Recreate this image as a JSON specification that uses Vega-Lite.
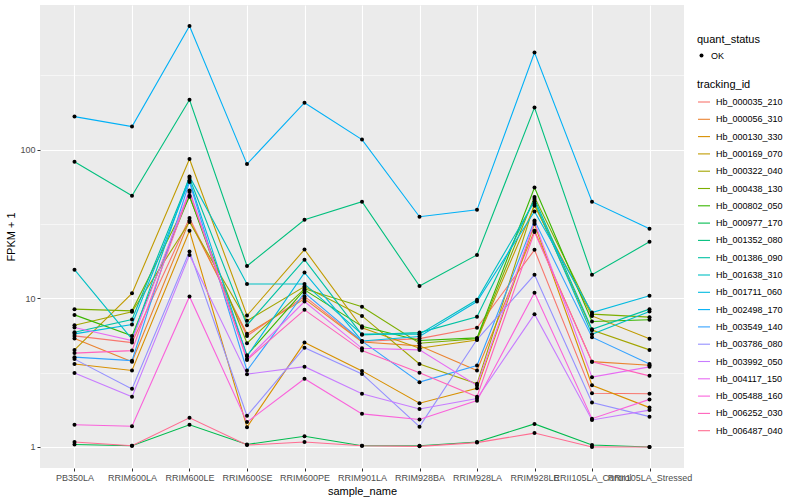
{
  "$schema": "https://vega.github.io/schema/vega-lite/v6.json",
  "autosize": {"type": "none"},
  "width": 644,
  "height": 463,
  "padding": {"left": 40, "top": 5, "right": 116, "bottom": 32},
  "background": "white",
  "data": {"values": [
    {"tracking_id":"Hb_000035_210","sample_name":"PB350LA","fpkm1":5.59,"quant_status":"OK"},
    {"tracking_id":"Hb_000035_210","sample_name":"RRIM600LA","fpkm1":5.04,"quant_status":"OK"},
    {"tracking_id":"Hb_000035_210","sample_name":"RRIM600LE","fpkm1":34.7,"quant_status":"OK"},
    {"tracking_id":"Hb_000035_210","sample_name":"RRIM600SE","fpkm1":5.59,"quant_status":"OK"},
    {"tracking_id":"Hb_000035_210","sample_name":"RRIM600PE","fpkm1":10.3,"quant_status":"OK"},
    {"tracking_id":"Hb_000035_210","sample_name":"RRIM901LA","fpkm1":5.12,"quant_status":"OK"},
    {"tracking_id":"Hb_000035_210","sample_name":"RRIM928BA","fpkm1":5.36,"quant_status":"OK"},
    {"tracking_id":"Hb_000035_210","sample_name":"RRIM928LA","fpkm1":6.33,"quant_status":"OK"},
    {"tracking_id":"Hb_000035_210","sample_name":"RRIM928LE","fpkm1":21.2,"quant_status":"OK"},
    {"tracking_id":"Hb_000035_210","sample_name":"RRII105LA_Control","fpkm1":2.30,"quant_status":"OK"},
    {"tracking_id":"Hb_000035_210","sample_name":"RRII105LA_Stressed","fpkm1":2.28,"quant_status":"OK"},
    {"tracking_id":"Hb_000056_310","sample_name":"PB350LA","fpkm1":5.36,"quant_status":"OK"},
    {"tracking_id":"Hb_000056_310","sample_name":"RRIM600LA","fpkm1":3.74,"quant_status":"OK"},
    {"tracking_id":"Hb_000056_310","sample_name":"RRIM600LE","fpkm1":33.4,"quant_status":"OK"},
    {"tracking_id":"Hb_000056_310","sample_name":"RRIM600SE","fpkm1":5.77,"quant_status":"OK"},
    {"tracking_id":"Hb_000056_310","sample_name":"RRIM600PE","fpkm1":9.92,"quant_status":"OK"},
    {"tracking_id":"Hb_000056_310","sample_name":"RRIM901LA","fpkm1":5.09,"quant_status":"OK"},
    {"tracking_id":"Hb_000056_310","sample_name":"RRIM928BA","fpkm1":4.79,"quant_status":"OK"},
    {"tracking_id":"Hb_000056_310","sample_name":"RRIM928LA","fpkm1":3.27,"quant_status":"OK"},
    {"tracking_id":"Hb_000056_310","sample_name":"RRIM928LE","fpkm1":28.5,"quant_status":"OK"},
    {"tracking_id":"Hb_000056_310","sample_name":"RRII105LA_Control","fpkm1":3.75,"quant_status":"OK"},
    {"tracking_id":"Hb_000056_310","sample_name":"RRII105LA_Stressed","fpkm1":3.55,"quant_status":"OK"},
    {"tracking_id":"Hb_000130_330","sample_name":"PB350LA","fpkm1":3.62,"quant_status":"OK"},
    {"tracking_id":"Hb_000130_330","sample_name":"RRIM600LA","fpkm1":3.27,"quant_status":"OK"},
    {"tracking_id":"Hb_000130_330","sample_name":"RRIM600LE","fpkm1":28.5,"quant_status":"OK"},
    {"tracking_id":"Hb_000130_330","sample_name":"RRIM600SE","fpkm1":1.36,"quant_status":"OK"},
    {"tracking_id":"Hb_000130_330","sample_name":"RRIM600PE","fpkm1":5.04,"quant_status":"OK"},
    {"tracking_id":"Hb_000130_330","sample_name":"RRIM901LA","fpkm1":3.25,"quant_status":"OK"},
    {"tracking_id":"Hb_000130_330","sample_name":"RRIM928BA","fpkm1":1.97,"quant_status":"OK"},
    {"tracking_id":"Hb_000130_330","sample_name":"RRIM928LA","fpkm1":2.48,"quant_status":"OK"},
    {"tracking_id":"Hb_000130_330","sample_name":"RRIM928LE","fpkm1":31.6,"quant_status":"OK"},
    {"tracking_id":"Hb_000130_330","sample_name":"RRII105LA_Control","fpkm1":2.60,"quant_status":"OK"},
    {"tracking_id":"Hb_000130_330","sample_name":"RRII105LA_Stressed","fpkm1":1.84,"quant_status":"OK"},
    {"tracking_id":"Hb_000169_070","sample_name":"PB350LA","fpkm1":4.50,"quant_status":"OK"},
    {"tracking_id":"Hb_000169_070","sample_name":"RRIM600LA","fpkm1":10.8,"quant_status":"OK"},
    {"tracking_id":"Hb_000169_070","sample_name":"RRIM600LE","fpkm1":86.6,"quant_status":"OK"},
    {"tracking_id":"Hb_000169_070","sample_name":"RRIM600SE","fpkm1":7.66,"quant_status":"OK"},
    {"tracking_id":"Hb_000169_070","sample_name":"RRIM600PE","fpkm1":21.3,"quant_status":"OK"},
    {"tracking_id":"Hb_000169_070","sample_name":"RRIM901LA","fpkm1":6.33,"quant_status":"OK"},
    {"tracking_id":"Hb_000169_070","sample_name":"RRIM928BA","fpkm1":4.62,"quant_status":"OK"},
    {"tracking_id":"Hb_000169_070","sample_name":"RRIM928LA","fpkm1":5.25,"quant_status":"OK"},
    {"tracking_id":"Hb_000169_070","sample_name":"RRIM928LE","fpkm1":42.0,"quant_status":"OK"},
    {"tracking_id":"Hb_000169_070","sample_name":"RRII105LA_Control","fpkm1":7.62,"quant_status":"OK"},
    {"tracking_id":"Hb_000169_070","sample_name":"RRII105LA_Stressed","fpkm1":5.34,"quant_status":"OK"},
    {"tracking_id":"Hb_000322_040","sample_name":"PB350LA","fpkm1":6.60,"quant_status":"OK"},
    {"tracking_id":"Hb_000322_040","sample_name":"RRIM600LA","fpkm1":8.11,"quant_status":"OK"},
    {"tracking_id":"Hb_000322_040","sample_name":"RRIM600LE","fpkm1":32.6,"quant_status":"OK"},
    {"tracking_id":"Hb_000322_040","sample_name":"RRIM600SE","fpkm1":7.06,"quant_status":"OK"},
    {"tracking_id":"Hb_000322_040","sample_name":"RRIM600PE","fpkm1":12.0,"quant_status":"OK"},
    {"tracking_id":"Hb_000322_040","sample_name":"RRIM901LA","fpkm1":7.62,"quant_status":"OK"},
    {"tracking_id":"Hb_000322_040","sample_name":"RRIM928BA","fpkm1":3.62,"quant_status":"OK"},
    {"tracking_id":"Hb_000322_040","sample_name":"RRIM928LA","fpkm1":2.66,"quant_status":"OK"},
    {"tracking_id":"Hb_000322_040","sample_name":"RRIM928LE","fpkm1":43.3,"quant_status":"OK"},
    {"tracking_id":"Hb_000322_040","sample_name":"RRII105LA_Control","fpkm1":6.11,"quant_status":"OK"},
    {"tracking_id":"Hb_000322_040","sample_name":"RRII105LA_Stressed","fpkm1":4.50,"quant_status":"OK"},
    {"tracking_id":"Hb_000438_130","sample_name":"PB350LA","fpkm1":8.46,"quant_status":"OK"},
    {"tracking_id":"Hb_000438_130","sample_name":"RRIM600LA","fpkm1":8.24,"quant_status":"OK"},
    {"tracking_id":"Hb_000438_130","sample_name":"RRIM600LE","fpkm1":48.3,"quant_status":"OK"},
    {"tracking_id":"Hb_000438_130","sample_name":"RRIM600SE","fpkm1":4.99,"quant_status":"OK"},
    {"tracking_id":"Hb_000438_130","sample_name":"RRIM600PE","fpkm1":11.6,"quant_status":"OK"},
    {"tracking_id":"Hb_000438_130","sample_name":"RRIM901LA","fpkm1":8.77,"quant_status":"OK"},
    {"tracking_id":"Hb_000438_130","sample_name":"RRIM928BA","fpkm1":4.99,"quant_status":"OK"},
    {"tracking_id":"Hb_000438_130","sample_name":"RRIM928LA","fpkm1":5.34,"quant_status":"OK"},
    {"tracking_id":"Hb_000438_130","sample_name":"RRIM928LE","fpkm1":48.0,"quant_status":"OK"},
    {"tracking_id":"Hb_000438_130","sample_name":"RRII105LA_Control","fpkm1":7.83,"quant_status":"OK"},
    {"tracking_id":"Hb_000438_130","sample_name":"RRII105LA_Stressed","fpkm1":7.47,"quant_status":"OK"},
    {"tracking_id":"Hb_000802_050","sample_name":"PB350LA","fpkm1":7.74,"quant_status":"OK"},
    {"tracking_id":"Hb_000802_050","sample_name":"RRIM600LA","fpkm1":5.59,"quant_status":"OK"},
    {"tracking_id":"Hb_000802_050","sample_name":"RRIM600LE","fpkm1":49.0,"quant_status":"OK"},
    {"tracking_id":"Hb_000802_050","sample_name":"RRIM600SE","fpkm1":4.14,"quant_status":"OK"},
    {"tracking_id":"Hb_000802_050","sample_name":"RRIM600PE","fpkm1":11.4,"quant_status":"OK"},
    {"tracking_id":"Hb_000802_050","sample_name":"RRIM901LA","fpkm1":6.48,"quant_status":"OK"},
    {"tracking_id":"Hb_000802_050","sample_name":"RRIM928BA","fpkm1":5.20,"quant_status":"OK"},
    {"tracking_id":"Hb_000802_050","sample_name":"RRIM928LA","fpkm1":5.42,"quant_status":"OK"},
    {"tracking_id":"Hb_000802_050","sample_name":"RRIM928LE","fpkm1":55.7,"quant_status":"OK"},
    {"tracking_id":"Hb_000802_050","sample_name":"RRII105LA_Control","fpkm1":6.98,"quant_status":"OK"},
    {"tracking_id":"Hb_000802_050","sample_name":"RRII105LA_Stressed","fpkm1":7.17,"quant_status":"OK"},
    {"tracking_id":"Hb_000977_170","sample_name":"PB350LA","fpkm1":1.04,"quant_status":"OK"},
    {"tracking_id":"Hb_000977_170","sample_name":"RRIM600LA","fpkm1":1.02,"quant_status":"OK"},
    {"tracking_id":"Hb_000977_170","sample_name":"RRIM600LE","fpkm1":1.41,"quant_status":"OK"},
    {"tracking_id":"Hb_000977_170","sample_name":"RRIM600SE","fpkm1":1.04,"quant_status":"OK"},
    {"tracking_id":"Hb_000977_170","sample_name":"RRIM600PE","fpkm1":1.18,"quant_status":"OK"},
    {"tracking_id":"Hb_000977_170","sample_name":"RRIM901LA","fpkm1":1.02,"quant_status":"OK"},
    {"tracking_id":"Hb_000977_170","sample_name":"RRIM928BA","fpkm1":1.02,"quant_status":"OK"},
    {"tracking_id":"Hb_000977_170","sample_name":"RRIM928LA","fpkm1":1.08,"quant_status":"OK"},
    {"tracking_id":"Hb_000977_170","sample_name":"RRIM928LE","fpkm1":1.43,"quant_status":"OK"},
    {"tracking_id":"Hb_000977_170","sample_name":"RRII105LA_Control","fpkm1":1.03,"quant_status":"OK"},
    {"tracking_id":"Hb_000977_170","sample_name":"RRII105LA_Stressed","fpkm1":1.0,"quant_status":"OK"},
    {"tracking_id":"Hb_001352_080","sample_name":"PB350LA","fpkm1":83,"quant_status":"OK"},
    {"tracking_id":"Hb_001352_080","sample_name":"RRIM600LA","fpkm1":49,"quant_status":"OK"},
    {"tracking_id":"Hb_001352_080","sample_name":"RRIM600LE","fpkm1":217,"quant_status":"OK"},
    {"tracking_id":"Hb_001352_080","sample_name":"RRIM600SE","fpkm1":16.5,"quant_status":"OK"},
    {"tracking_id":"Hb_001352_080","sample_name":"RRIM600PE","fpkm1":33.8,"quant_status":"OK"},
    {"tracking_id":"Hb_001352_080","sample_name":"RRIM901LA","fpkm1":44.7,"quant_status":"OK"},
    {"tracking_id":"Hb_001352_080","sample_name":"RRIM928BA","fpkm1":12.1,"quant_status":"OK"},
    {"tracking_id":"Hb_001352_080","sample_name":"RRIM928LA","fpkm1":19.6,"quant_status":"OK"},
    {"tracking_id":"Hb_001352_080","sample_name":"RRIM928LE","fpkm1":192,"quant_status":"OK"},
    {"tracking_id":"Hb_001352_080","sample_name":"RRII105LA_Control","fpkm1":14.4,"quant_status":"OK"},
    {"tracking_id":"Hb_001352_080","sample_name":"RRII105LA_Stressed","fpkm1":24.0,"quant_status":"OK"},
    {"tracking_id":"Hb_001386_090","sample_name":"PB350LA","fpkm1":5.92,"quant_status":"OK"},
    {"tracking_id":"Hb_001386_090","sample_name":"RRIM600LA","fpkm1":7.20,"quant_status":"OK"},
    {"tracking_id":"Hb_001386_090","sample_name":"RRIM600LE","fpkm1":64.5,"quant_status":"OK"},
    {"tracking_id":"Hb_001386_090","sample_name":"RRIM600SE","fpkm1":6.60,"quant_status":"OK"},
    {"tracking_id":"Hb_001386_090","sample_name":"RRIM600PE","fpkm1":18.2,"quant_status":"OK"},
    {"tracking_id":"Hb_001386_090","sample_name":"RRIM901LA","fpkm1":5.68,"quant_status":"OK"},
    {"tracking_id":"Hb_001386_090","sample_name":"RRIM928BA","fpkm1":5.88,"quant_status":"OK"},
    {"tracking_id":"Hb_001386_090","sample_name":"RRIM928LA","fpkm1":7.51,"quant_status":"OK"},
    {"tracking_id":"Hb_001386_090","sample_name":"RRIM928LE","fpkm1":46.6,"quant_status":"OK"},
    {"tracking_id":"Hb_001386_090","sample_name":"RRII105LA_Control","fpkm1":6.20,"quant_status":"OK"},
    {"tracking_id":"Hb_001386_090","sample_name":"RRII105LA_Stressed","fpkm1":8.46,"quant_status":"OK"},
    {"tracking_id":"Hb_001638_310","sample_name":"PB350LA","fpkm1":15.6,"quant_status":"OK"},
    {"tracking_id":"Hb_001638_310","sample_name":"RRIM600LA","fpkm1":5.31,"quant_status":"OK"},
    {"tracking_id":"Hb_001638_310","sample_name":"RRIM600LE","fpkm1":66.1,"quant_status":"OK"},
    {"tracking_id":"Hb_001638_310","sample_name":"RRIM600SE","fpkm1":12.5,"quant_status":"OK"},
    {"tracking_id":"Hb_001638_310","sample_name":"RRIM600PE","fpkm1":12.5,"quant_status":"OK"},
    {"tracking_id":"Hb_001638_310","sample_name":"RRIM901LA","fpkm1":5.74,"quant_status":"OK"},
    {"tracking_id":"Hb_001638_310","sample_name":"RRIM928BA","fpkm1":5.74,"quant_status":"OK"},
    {"tracking_id":"Hb_001638_310","sample_name":"RRIM928LA","fpkm1":9.77,"quant_status":"OK"},
    {"tracking_id":"Hb_001638_310","sample_name":"RRIM928LE","fpkm1":44.9,"quant_status":"OK"},
    {"tracking_id":"Hb_001638_310","sample_name":"RRII105LA_Control","fpkm1":5.74,"quant_status":"OK"},
    {"tracking_id":"Hb_001638_310","sample_name":"RRII105LA_Stressed","fpkm1":8.15,"quant_status":"OK"},
    {"tracking_id":"Hb_001711_060","sample_name":"PB350LA","fpkm1":5.77,"quant_status":"OK"},
    {"tracking_id":"Hb_001711_060","sample_name":"RRIM600LA","fpkm1":6.66,"quant_status":"OK"},
    {"tracking_id":"Hb_001711_060","sample_name":"RRIM600LE","fpkm1":62.1,"quant_status":"OK"},
    {"tracking_id":"Hb_001711_060","sample_name":"RRIM600SE","fpkm1":4.08,"quant_status":"OK"},
    {"tracking_id":"Hb_001711_060","sample_name":"RRIM600PE","fpkm1":14.9,"quant_status":"OK"},
    {"tracking_id":"Hb_001711_060","sample_name":"RRIM901LA","fpkm1":5.17,"quant_status":"OK"},
    {"tracking_id":"Hb_001711_060","sample_name":"RRIM928BA","fpkm1":5.53,"quant_status":"OK"},
    {"tracking_id":"Hb_001711_060","sample_name":"RRIM928LA","fpkm1":9.52,"quant_status":"OK"},
    {"tracking_id":"Hb_001711_060","sample_name":"RRIM928LE","fpkm1":38.4,"quant_status":"OK"},
    {"tracking_id":"Hb_001711_060","sample_name":"RRII105LA_Control","fpkm1":8.02,"quant_status":"OK"},
    {"tracking_id":"Hb_001711_060","sample_name":"RRII105LA_Stressed","fpkm1":10.4,"quant_status":"OK"},
    {"tracking_id":"Hb_002498_170","sample_name":"PB350LA","fpkm1":167,"quant_status":"OK"},
    {"tracking_id":"Hb_002498_170","sample_name":"RRIM600LA","fpkm1":143,"quant_status":"OK"},
    {"tracking_id":"Hb_002498_170","sample_name":"RRIM600LE","fpkm1":679,"quant_status":"OK"},
    {"tracking_id":"Hb_002498_170","sample_name":"RRIM600SE","fpkm1":80,"quant_status":"OK"},
    {"tracking_id":"Hb_002498_170","sample_name":"RRIM600PE","fpkm1":207,"quant_status":"OK"},
    {"tracking_id":"Hb_002498_170","sample_name":"RRIM901LA","fpkm1":117,"quant_status":"OK"},
    {"tracking_id":"Hb_002498_170","sample_name":"RRIM928BA","fpkm1":35.4,"quant_status":"OK"},
    {"tracking_id":"Hb_002498_170","sample_name":"RRIM928LA","fpkm1":39.4,"quant_status":"OK"},
    {"tracking_id":"Hb_002498_170","sample_name":"RRIM928LE","fpkm1":450,"quant_status":"OK"},
    {"tracking_id":"Hb_002498_170","sample_name":"RRII105LA_Control","fpkm1":44.7,"quant_status":"OK"},
    {"tracking_id":"Hb_002498_170","sample_name":"RRII105LA_Stressed","fpkm1":29.4,"quant_status":"OK"},
    {"tracking_id":"Hb_003549_140","sample_name":"PB350LA","fpkm1":4.02,"quant_status":"OK"},
    {"tracking_id":"Hb_003549_140","sample_name":"RRIM600LA","fpkm1":3.81,"quant_status":"OK"},
    {"tracking_id":"Hb_003549_140","sample_name":"RRIM600LE","fpkm1":60.6,"quant_status":"OK"},
    {"tracking_id":"Hb_003549_140","sample_name":"RRIM600SE","fpkm1":3.27,"quant_status":"OK"},
    {"tracking_id":"Hb_003549_140","sample_name":"RRIM600PE","fpkm1":10.9,"quant_status":"OK"},
    {"tracking_id":"Hb_003549_140","sample_name":"RRIM901LA","fpkm1":5.15,"quant_status":"OK"},
    {"tracking_id":"Hb_003549_140","sample_name":"RRIM928BA","fpkm1":2.73,"quant_status":"OK"},
    {"tracking_id":"Hb_003549_140","sample_name":"RRIM928LA","fpkm1":3.53,"quant_status":"OK"},
    {"tracking_id":"Hb_003549_140","sample_name":"RRIM928LE","fpkm1":33.4,"quant_status":"OK"},
    {"tracking_id":"Hb_003549_140","sample_name":"RRII105LA_Control","fpkm1":5.48,"quant_status":"OK"},
    {"tracking_id":"Hb_003549_140","sample_name":"RRII105LA_Stressed","fpkm1":3.62,"quant_status":"OK"},
    {"tracking_id":"Hb_003786_080","sample_name":"PB350LA","fpkm1":3.90,"quant_status":"OK"},
    {"tracking_id":"Hb_003786_080","sample_name":"RRIM600LA","fpkm1":2.46,"quant_status":"OK"},
    {"tracking_id":"Hb_003786_080","sample_name":"RRIM600LE","fpkm1":20.7,"quant_status":"OK"},
    {"tracking_id":"Hb_003786_080","sample_name":"RRIM600SE","fpkm1":1.62,"quant_status":"OK"},
    {"tracking_id":"Hb_003786_080","sample_name":"RRIM600PE","fpkm1":4.66,"quant_status":"OK"},
    {"tracking_id":"Hb_003786_080","sample_name":"RRIM901LA","fpkm1":3.10,"quant_status":"OK"},
    {"tracking_id":"Hb_003786_080","sample_name":"RRIM928BA","fpkm1":1.37,"quant_status":"OK"},
    {"tracking_id":"Hb_003786_080","sample_name":"RRIM928LA","fpkm1":5.28,"quant_status":"OK"},
    {"tracking_id":"Hb_003786_080","sample_name":"RRIM928LE","fpkm1":14.4,"quant_status":"OK"},
    {"tracking_id":"Hb_003786_080","sample_name":"RRII105LA_Control","fpkm1":1.99,"quant_status":"OK"},
    {"tracking_id":"Hb_003786_080","sample_name":"RRII105LA_Stressed","fpkm1":1.60,"quant_status":"OK"},
    {"tracking_id":"Hb_003992_050","sample_name":"PB350LA","fpkm1":3.14,"quant_status":"OK"},
    {"tracking_id":"Hb_003992_050","sample_name":"RRIM600LA","fpkm1":2.18,"quant_status":"OK"},
    {"tracking_id":"Hb_003992_050","sample_name":"RRIM600LE","fpkm1":19.6,"quant_status":"OK"},
    {"tracking_id":"Hb_003992_050","sample_name":"RRIM600SE","fpkm1":3.09,"quant_status":"OK"},
    {"tracking_id":"Hb_003992_050","sample_name":"RRIM600PE","fpkm1":3.47,"quant_status":"OK"},
    {"tracking_id":"Hb_003992_050","sample_name":"RRIM901LA","fpkm1":2.28,"quant_status":"OK"},
    {"tracking_id":"Hb_003992_050","sample_name":"RRIM928BA","fpkm1":1.80,"quant_status":"OK"},
    {"tracking_id":"Hb_003992_050","sample_name":"RRIM928LA","fpkm1":2.12,"quant_status":"OK"},
    {"tracking_id":"Hb_003992_050","sample_name":"RRIM928LE","fpkm1":7.83,"quant_status":"OK"},
    {"tracking_id":"Hb_003992_050","sample_name":"RRII105LA_Control","fpkm1":1.52,"quant_status":"OK"},
    {"tracking_id":"Hb_003992_050","sample_name":"RRII105LA_Stressed","fpkm1":1.77,"quant_status":"OK"},
    {"tracking_id":"Hb_004117_150","sample_name":"PB350LA","fpkm1":6.36,"quant_status":"OK"},
    {"tracking_id":"Hb_004117_150","sample_name":"RRIM600LA","fpkm1":5.20,"quant_status":"OK"},
    {"tracking_id":"Hb_004117_150","sample_name":"RRIM600LE","fpkm1":53.2,"quant_status":"OK"},
    {"tracking_id":"Hb_004117_150","sample_name":"RRIM600SE","fpkm1":3.90,"quant_status":"OK"},
    {"tracking_id":"Hb_004117_150","sample_name":"RRIM600PE","fpkm1":9.52,"quant_status":"OK"},
    {"tracking_id":"Hb_004117_150","sample_name":"RRIM901LA","fpkm1":4.61,"quant_status":"OK"},
    {"tracking_id":"Hb_004117_150","sample_name":"RRIM928BA","fpkm1":4.50,"quant_status":"OK"},
    {"tracking_id":"Hb_004117_150","sample_name":"RRIM928LA","fpkm1":2.59,"quant_status":"OK"},
    {"tracking_id":"Hb_004117_150","sample_name":"RRIM928LE","fpkm1":32.6,"quant_status":"OK"},
    {"tracking_id":"Hb_004117_150","sample_name":"RRII105LA_Control","fpkm1":2.95,"quant_status":"OK"},
    {"tracking_id":"Hb_004117_150","sample_name":"RRII105LA_Stressed","fpkm1":3.46,"quant_status":"OK"},
    {"tracking_id":"Hb_005488_160","sample_name":"PB350LA","fpkm1":1.41,"quant_status":"OK"},
    {"tracking_id":"Hb_005488_160","sample_name":"RRIM600LA","fpkm1":1.38,"quant_status":"OK"},
    {"tracking_id":"Hb_005488_160","sample_name":"RRIM600LE","fpkm1":10.3,"quant_status":"OK"},
    {"tracking_id":"Hb_005488_160","sample_name":"RRIM600SE","fpkm1":1.47,"quant_status":"OK"},
    {"tracking_id":"Hb_005488_160","sample_name":"RRIM600PE","fpkm1":2.88,"quant_status":"OK"},
    {"tracking_id":"Hb_005488_160","sample_name":"RRIM901LA","fpkm1":1.67,"quant_status":"OK"},
    {"tracking_id":"Hb_005488_160","sample_name":"RRIM928BA","fpkm1":1.53,"quant_status":"OK"},
    {"tracking_id":"Hb_005488_160","sample_name":"RRIM928LA","fpkm1":2.05,"quant_status":"OK"},
    {"tracking_id":"Hb_005488_160","sample_name":"RRIM928LE","fpkm1":10.9,"quant_status":"OK"},
    {"tracking_id":"Hb_005488_160","sample_name":"RRII105LA_Control","fpkm1":1.55,"quant_status":"OK"},
    {"tracking_id":"Hb_005488_160","sample_name":"RRII105LA_Stressed","fpkm1":2.09,"quant_status":"OK"},
    {"tracking_id":"Hb_006252_030","sample_name":"PB350LA","fpkm1":4.28,"quant_status":"OK"},
    {"tracking_id":"Hb_006252_030","sample_name":"RRIM600LA","fpkm1":4.45,"quant_status":"OK"},
    {"tracking_id":"Hb_006252_030","sample_name":"RRIM600LE","fpkm1":51.9,"quant_status":"OK"},
    {"tracking_id":"Hb_006252_030","sample_name":"RRIM600SE","fpkm1":3.85,"quant_status":"OK"},
    {"tracking_id":"Hb_006252_030","sample_name":"RRIM600PE","fpkm1":8.37,"quant_status":"OK"},
    {"tracking_id":"Hb_006252_030","sample_name":"RRIM901LA","fpkm1":4.45,"quant_status":"OK"},
    {"tracking_id":"Hb_006252_030","sample_name":"RRIM928BA","fpkm1":3.16,"quant_status":"OK"},
    {"tracking_id":"Hb_006252_030","sample_name":"RRIM928LA","fpkm1":2.18,"quant_status":"OK"},
    {"tracking_id":"Hb_006252_030","sample_name":"RRIM928LE","fpkm1":27.9,"quant_status":"OK"},
    {"tracking_id":"Hb_006252_030","sample_name":"RRII105LA_Control","fpkm1":3.74,"quant_status":"OK"},
    {"tracking_id":"Hb_006252_030","sample_name":"RRII105LA_Stressed","fpkm1":3.01,"quant_status":"OK"},
    {"tracking_id":"Hb_006487_040","sample_name":"PB350LA","fpkm1":1.08,"quant_status":"OK"},
    {"tracking_id":"Hb_006487_040","sample_name":"RRIM600LA","fpkm1":1.02,"quant_status":"OK"},
    {"tracking_id":"Hb_006487_040","sample_name":"RRIM600LE","fpkm1":1.57,"quant_status":"OK"},
    {"tracking_id":"Hb_006487_040","sample_name":"RRIM600SE","fpkm1":1.03,"quant_status":"OK"},
    {"tracking_id":"Hb_006487_040","sample_name":"RRIM600PE","fpkm1":1.08,"quant_status":"OK"},
    {"tracking_id":"Hb_006487_040","sample_name":"RRIM901LA","fpkm1":1.02,"quant_status":"OK"},
    {"tracking_id":"Hb_006487_040","sample_name":"RRIM928BA","fpkm1":1.01,"quant_status":"OK"},
    {"tracking_id":"Hb_006487_040","sample_name":"RRIM928LA","fpkm1":1.07,"quant_status":"OK"},
    {"tracking_id":"Hb_006487_040","sample_name":"RRIM928LE","fpkm1":1.24,"quant_status":"OK"},
    {"tracking_id":"Hb_006487_040","sample_name":"RRII105LA_Control","fpkm1":1.0,"quant_status":"OK"},
    {"tracking_id":"Hb_006487_040","sample_name":"RRII105LA_Stressed","fpkm1":1.0,"quant_status":"OK"}
  ]},
  "encoding": {
    "x": {
      "field": "sample_name", "type": "nominal",
      "sort": ["PB350LA","RRIM600LA","RRIM600LE","RRIM600SE","RRIM600PE","RRIM901LA","RRIM928BA","RRIM928LA","RRIM928LE","RRII105LA_Control","RRII105LA_Stressed"],
      "scale": {"type": "point", "padding": 0.6},
      "axis": {"title": "sample_name", "labelAngle": 0, "grid": true, "gridColor": "white", "gridWidth": 1.1, "labelOverlap": false, "labelFlush": false, "labelBound": false, "labelPadding": 2, "titlePadding": 3}
    }
  },
  "layer": [
    {
      "mark": {"type": "line", "strokeWidth": 1.1},
      "encoding": {
        "y": {
          "field": "fpkm1", "type": "quantitative",
          "scale": {"type": "log", "domain": [0.722, 941], "nice": false, "zero": false},
          "axis": {"title": "FPKM + 1", "values": [1, 10, 100], "format": "~g", "grid": true, "gridColor": "white", "gridWidth": 1.1, "labelPadding": 2, "titlePadding": 3}
        },
        "color": {
          "field": "tracking_id", "type": "nominal",
          "scale": {"range": ["#F8766D","#EA8331","#D89000","#C09B00","#A3A500","#7CAE00","#39B600","#00BB4E","#00BF7D","#00C1A3","#00BFC4","#00BAE0","#00B0F6","#35A2FF","#9590FF","#C77CFF","#E76BF3","#FA62DB","#FF62BC","#FF6C91"]},
          "legend": {"title": "tracking_id", "orient": "none", "legendX": 657, "legendY": 74, "symbolType": "stroke", "symbolSize": 144, "symbolStrokeWidth": 1.1, "rowPadding": 5.3, "labelOffset": 5, "titlePadding": 5}
        }
      }
    },
    {
      "mark": {"type": "point", "filled": true, "color": "black", "size": 16, "opacity": 1},
      "encoding": {
        "y": {
          "field": "fpkm1", "type": "quantitative",
          "axis": {"orient": "right", "values": [3.1623, 31.623, 316.23], "labels": false, "ticks": false, "domain": false, "title": null, "grid": true, "gridColor": "white", "gridWidth": 0.55}
        },
        "shape": {
          "field": "quant_status", "type": "nominal",
          "scale": {"range": ["circle"]},
          "legend": {"title": "quant_status", "orient": "none", "legendX": 657, "legendY": 29, "symbolFillColor": "black", "symbolStrokeColor": "black", "symbolSize": 16, "titlePadding": 6, "labelOffset": 5}
        }
      }
    }
  ],
  "resolve": {"axis": {"y": "independent"}},
  "config": {
    "font": "Liberation Sans",
    "view": {"fill": "#EBEBEB", "stroke": null},
    "axis": {"domain": false, "tickColor": "#333333", "tickSize": 3, "tickWidth": 1, "labelColor": "#4D4D4D", "labelFontSize": 9, "labelFont": "Liberation Sans", "titleFont": "Liberation Sans", "titleFontSize": 11, "titleFontWeight": "normal", "titleColor": "black"},
    "legend": {"titleFont": "Liberation Sans", "titleFontSize": 11, "titleFontWeight": "normal", "titleColor": "black", "labelFont": "Liberation Sans", "labelFontSize": 9, "labelColor": "black", "padding": 0}
  }
}
